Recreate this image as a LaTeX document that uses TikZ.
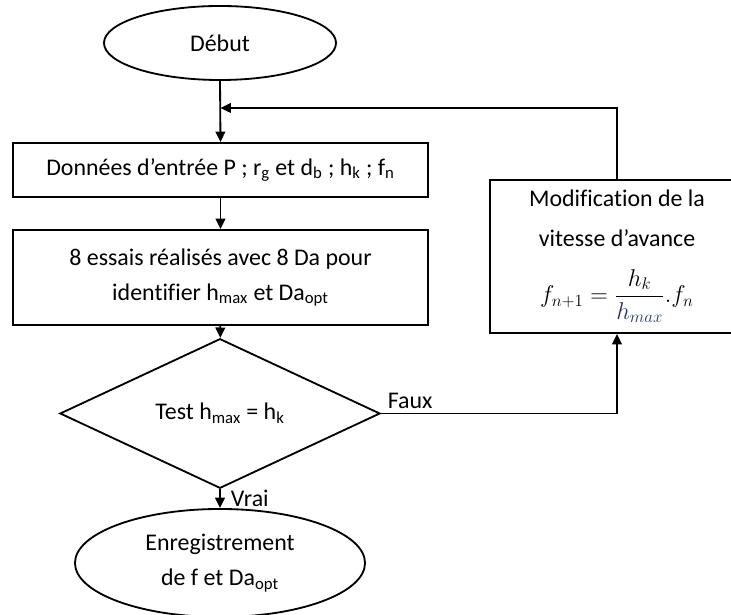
\documentclass[tikz,border=0pt]{standalone}
\usepackage{amsmath}
\usepackage{fontspec}
\setmainfont{Carlito}[Ligatures=NoCommon]
\usetikzlibrary{shapes.geometric,arrows.meta}
\definecolor{denomblue}{RGB}{31,56,100}

\begin{document}
\begin{tikzpicture}[x=0.025cm, y=-0.025cm,
	every node/.style={draw, line width=1.3pt, align=center, inner sep=0pt, font=\fontsize{17}{25}\selectfont},
	fleche/.style={line width=1.3pt, -{Triangle[length=0.26cm,width=0.24cm]}}]
	
	\useasboundingbox (0,0) rectangle (731,615);
	
	\node[ellipse, minimum width=5.8cm, minimum height=1.85cm] (debut) at (220,43) {Début};
	\node[minimum width=10.375cm, minimum height=1.35cm] (donnees) at (220.5,170) {Données d’entrée P ; r\textsubscript{g} et d\textsubscript{b} ; h\textsubscript{k} ; f\textsubscript{n}};
	\node[minimum width=10.375cm, minimum height=2.375cm] (essais) at (220.5,277.5) {8 essais réalisés avec 8 Da pour\\identifier h\textsubscript{max} et Da\textsubscript{opt}};
	\node[diamond, minimum width=8cm, minimum height=2.875cm] (test) at (220,413.5) {Test h\textsubscript{max} = h\textsubscript{k}};
	\node[ellipse, minimum width=7.25cm, minimum height=2.7cm] (fin) at (220,563) {Enregistrement\\de f et Da\textsubscript{opt}};
	\node[minimum width=6.35cm, minimum height=3.825cm, font=\fontsize{17}{28}\selectfont] (modif) at (617,256.5) {Modification de la\\vitesse d’avance\\[12pt]$\displaystyle f_{n+1}=\frac{h_k}{\color{denomblue}h_{max}}.f_n$};
	\coordinate (retour) at (220.5,108);
	
	\draw[fleche] (debut.south) -- (donnees.north);
	\draw[fleche] (donnees) -- (essais);
	\draw[fleche] (essais) -- (test);
	\draw[fleche] (test) -- node[draw=none, right, xshift=0.25cm]{Vrai} (fin);
	\draw[fleche] (test.east) node[draw=none, above right, xshift=0.15cm, yshift=0.1cm]{Faux} -| (modif.south);
	\draw[fleche] (modif.north) |- (retour);
	
\end{tikzpicture}
\end{document}
